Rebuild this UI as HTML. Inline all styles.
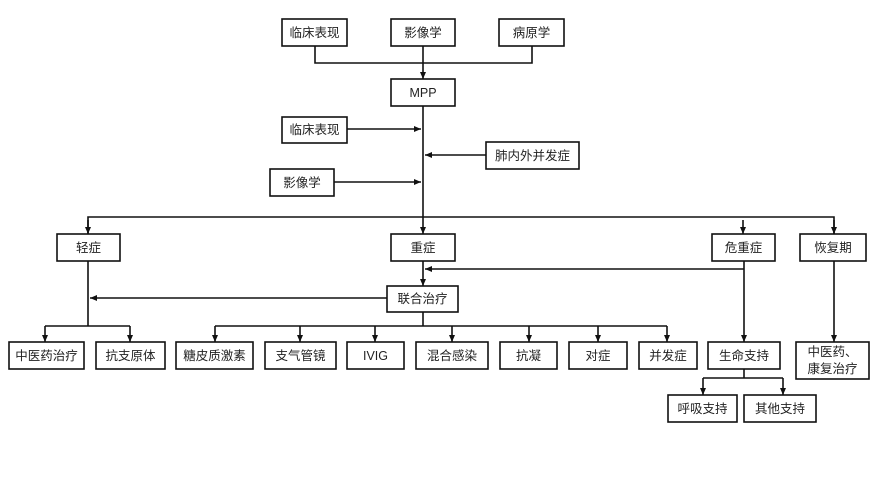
<!DOCTYPE html>
<html><head><meta charset="utf-8"><style>
html,body{margin:0;padding:0;background:#fff}
svg text{font-family:"Liberation Sans","Noto Sans CJK SC",sans-serif;font-size:12.5px;fill:#222;text-anchor:middle;dominant-baseline:central}
</style></head><body>
<svg width="892" height="496" viewBox="0 0 892 496" xmlns="http://www.w3.org/2000/svg">
<defs><marker id="a" markerWidth="8" markerHeight="8" refX="7" refY="4" orient="auto" markerUnits="userSpaceOnUse"><path d="M0,1 L7,4 L0,7 z" fill="#111"/></marker></defs>
<g fill="#fff" stroke="#111" stroke-width="1.6">
<rect x="282" y="19" width="65" height="27"/><rect x="391" y="19" width="64" height="27"/><rect x="499" y="19" width="65" height="27"/>
<rect x="391" y="79" width="64" height="27"/>
<rect x="282" y="117" width="65" height="26"/><rect x="486" y="142" width="93" height="27"/><rect x="270" y="169" width="64" height="27"/>
<rect x="57" y="234" width="63" height="27"/><rect x="391" y="234" width="64" height="27"/><rect x="712" y="234" width="63" height="27"/><rect x="800" y="234" width="66" height="27"/>
<rect x="387" y="286" width="71" height="26"/>
<rect x="9" y="342" width="75" height="27"/><rect x="96" y="342" width="69" height="27"/><rect x="176" y="342" width="77" height="27"/><rect x="265" y="342" width="71" height="27"/><rect x="347" y="342" width="57" height="27"/><rect x="416" y="342" width="72" height="27"/><rect x="500" y="342" width="57" height="27"/><rect x="569" y="342" width="58" height="27"/><rect x="639" y="342" width="58" height="27"/><rect x="708" y="342" width="72" height="27"/><rect x="796" y="342" width="73" height="37"/>
<rect x="668" y="395" width="69" height="27"/><rect x="744" y="395" width="72" height="27"/>
</g>
<g fill="none" stroke="#111" stroke-width="1.6">
<path d="M315,46V63H532V46"/><path d="M423,46V79" marker-end="url(#a)"/>
<path d="M423,106V234" marker-end="url(#a)"/>
<path d="M347,129H421" marker-end="url(#a)"/><path d="M486,155H425" marker-end="url(#a)"/><path d="M334,182H421" marker-end="url(#a)"/>
<path d="M88,234V217H834V234"/><path d="M88,220V234" marker-end="url(#a)"/><path d="M743,220V234" marker-end="url(#a)"/><path d="M834,220V234" marker-end="url(#a)"/>
<path d="M423,261V286" marker-end="url(#a)"/><path d="M744,261V342" marker-end="url(#a)"/><path d="M744,269H425" marker-end="url(#a)"/>
<path d="M834,261V342" marker-end="url(#a)"/>
<path d="M387,298H90" marker-end="url(#a)"/>
<path d="M88,261V326"/><path d="M45,326H130"/><path d="M45,326V342" marker-end="url(#a)"/><path d="M130,326V342" marker-end="url(#a)"/>
<path d="M423,312V326"/><path d="M215,326H667"/>
<path d="M215,326V342" marker-end="url(#a)"/><path d="M300,326V342" marker-end="url(#a)"/><path d="M375,326V342" marker-end="url(#a)"/><path d="M452,326V342" marker-end="url(#a)"/><path d="M529,326V342" marker-end="url(#a)"/><path d="M598,326V342" marker-end="url(#a)"/><path d="M667,326V342" marker-end="url(#a)"/>
<path d="M744,369V378"/><path d="M703,378H783"/><path d="M703,378V395" marker-end="url(#a)"/><path d="M783,378V395" marker-end="url(#a)"/>
</g>
<text x="314.5" y="33">临床表现</text><text x="423" y="33">影像学</text><text x="531.5" y="33">病原学</text>
<text x="423" y="93">MPP</text>
<text x="314.5" y="130">临床表现</text><text x="532.5" y="156">肺内外并发症</text><text x="302" y="183">影像学</text>
<text x="88.5" y="248">轻症</text><text x="423" y="248">重症</text><text x="743.5" y="248">危重症</text><text x="833" y="248">恢复期</text>
<text x="422.5" y="299">联合治疗</text>
<text x="46.5" y="356">中医药治疗</text><text x="130.5" y="356">抗支原体</text><text x="214.5" y="356">糖皮质激素</text><text x="300.5" y="356">支气管镜</text><text x="375.5" y="356">IVIG</text><text x="452" y="356">混合感染</text><text x="528.5" y="356">抗凝</text><text x="598" y="356">对症</text><text x="668" y="356">并发症</text><text x="744" y="356">生命支持</text>
<text x="832.5" y="352">中医药、</text><text x="832.5" y="369">康复治疗</text>
<text x="702.5" y="409">呼吸支持</text><text x="780" y="409">其他支持</text>
</svg>
</body></html>
